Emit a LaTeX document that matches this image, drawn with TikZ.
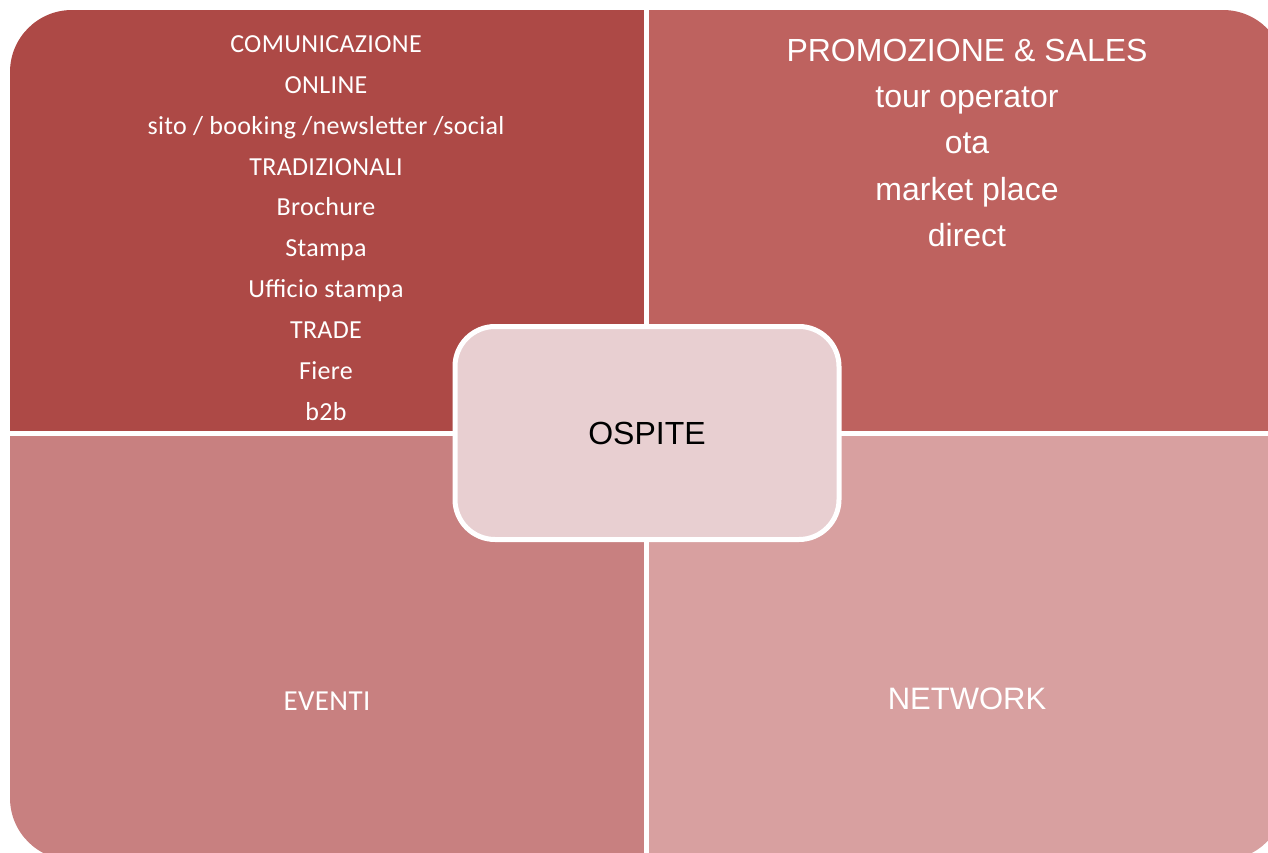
\documentclass[tikz,border=0pt]{standalone}
\usepackage{fontspec}
\setmainfont{Liberation Sans}
\newfontfamily\calibri[LetterSpace=1.3]{Carlito}
\definecolor{qtl}{HTML}{AD4946}
\definecolor{qtr}{HTML}{BE625F}
\definecolor{qbl}{HTML}{C88080}
\definecolor{qbr}{HTML}{D8A0A0}
\definecolor{qc}{HTML}{E8CFD1}
\tikzset{
  quad/.style={inner sep=0pt, outer sep=0pt},
  txt/.style={text=white, inner sep=0pt, align=center},
}
\begin{document}
\begin{tikzpicture}[x=1pt,y=-1pt]
\useasboundingbox (0,0) rectangle (1268,853);
\clip (0,0) rectangle (1268,853);
\begin{scope}
  \clip[rounded corners=62] (10,10) rectangle (1285,860);
  \fill[qtl] (10,10) rectangle (644,431);
  \fill[qtr] (649,10) rectangle (1285,431);
  \fill[qbl] (10,436) rectangle (644,860);
  \fill[qbr] (649,436) rectangle (1285,860);
\end{scope}
% top-left text
\node[txt, anchor=north, font={\calibri\fontsize{26}{40.9}\selectfont}] (comm) at (326,35.3)
  {COMUNICAZIONE\\ONLINE\\sito / booking /newsletter /social\\TRADIZIONALI\\Brochure\\Stampa\\Ufficio stampa\\TRADE\\Fiere\\b2b};
% top-right text
\node[txt, anchor=north, font={\fontsize{32}{46.4}\selectfont}] (promo) at (967,38.5)
  {PROMOZIONE \& SALES\\tour operator\\ota\\market place\\direct};
% bottom texts
\node[txt, anchor=base, font={\calibri\fontsize{29}{34}\selectfont}] (eventi) at (327,710) {EVENTI};
\node[txt, anchor=base, font={\fontsize{31}{36}\selectfont}] (network) at (967,709) {NETWORK};
% center
\node[draw=white, line width=5pt, fill=qc, rounded corners=40, minimum width=384pt, minimum height=213pt, inner sep=0pt] (ospite) at (647,433) {};
\node[anchor=base, inner sep=0pt, font={\fontsize{32}{38}\selectfont}] (ospitetxt) at (647,444) {OSPITE};
\end{tikzpicture}
\end{document}
